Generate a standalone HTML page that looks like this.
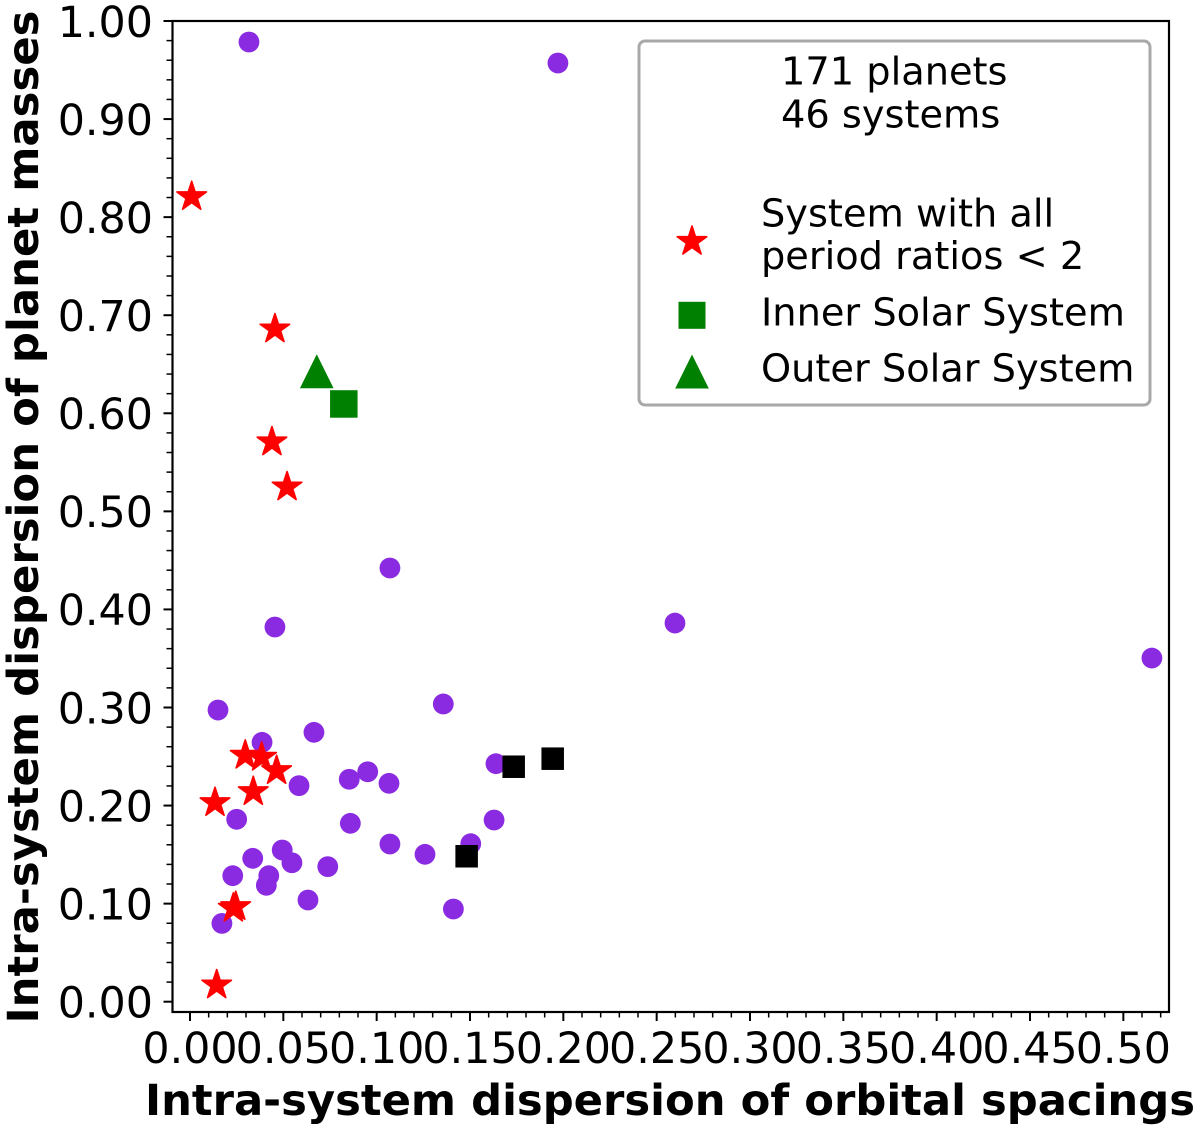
<!DOCTYPE html>
<html lang="en">
<head>
<meta charset="utf-8">
<title>Intra-system dispersion scatter chart</title>
<style>
html,body{margin:0;padding:0;background:#fff;width:1200px;height:1130px;overflow:hidden}
svg{display:block;font-family:"DejaVu Sans","Liberation Sans",sans-serif}
</style>
</head>
<body>
<svg id="chart" xmlns="http://www.w3.org/2000/svg" width="1200" height="1130" viewBox="0 0 1200 1130">
  <g id="marks"></g>
  <g id="axes"></g>
  <rect x="172.5" y="21" width="996.5" height="991" fill="none" stroke="#000" stroke-width="2.2"/>
  <text x="670" y="1115" font-size="42.5" font-weight="700" text-anchor="middle" textLength="1050" lengthAdjust="spacingAndGlyphs">Intra-system dispersion of orbital spacings</text>
  <text x="38" y="517" font-size="42.5" font-weight="700" text-anchor="middle" transform="rotate(-90 38 517)" textLength="1013" lengthAdjust="spacingAndGlyphs">Intra-system dispersion of planet masses</text>
  <g>
    <rect x="639" y="41" width="511" height="364" rx="6" ry="6" fill="#fff" stroke="#a8a8a8" stroke-width="3"/>
    <text x="781" y="84.5" font-size="38.3">171 planets</text>
    <text x="781" y="127.5" font-size="38.3">46 systems</text>
    <text x="761" y="226.5" font-size="38.3">System with all</text>
    <text x="761" y="269" font-size="38.3">period ratios &lt; 2</text>
    <text x="761" y="325.5" font-size="38.3">Inner Solar System</text>
    <text x="761" y="381.5" font-size="38.3">Outer Solar System</text>
    <g id="legend-markers"></g>
  </g>
</svg>
<script>
var xTickLabels = ["0.00","0.05","0.10","0.15","0.20","0.25","0.30","0.35","0.40","0.45","0.50"];
var yTickLabels = ["0.00","0.10","0.20","0.30","0.40","0.50","0.60","0.70","0.80","0.90","1.00"];
var xMinorValues = [0.01,0.02,0.03,0.04,0.06,0.07,0.08,0.09,0.11,0.12,0.13,0.14,0.16,0.17,0.18,0.19,0.21,0.22,0.23,0.24,0.26,0.27,0.28,0.29,0.31,0.32,0.33,0.34,0.36,0.37,0.38,0.39,0.41,0.42,0.43,0.44,0.46,0.47,0.48,0.49,0.51,0.52];
var yMinorValues = [0.02,0.04,0.06,0.08,0.12,0.14,0.16,0.18,0.22,0.24,0.26,0.28,0.32,0.34,0.36,0.38,0.42,0.44,0.46,0.48,0.52,0.54,0.56,0.58,0.62,0.64,0.66,0.68,0.72,0.74,0.76,0.78,0.82,0.84,0.86,0.88,0.92,0.94,0.96,0.98];

var circleX = [.0316,.1971,.1071,.0455,.2598,.5153,.0150,.0386,.0664,.0584,.0853,.0952,.1066,.0859,.1071,.0250,.0336,.0494,.0546,.0738,.0229,.0422,.0409,.0632,.0171,.1357,.1639,.1629,.1259,.1504,.1411];
var circleY = [.9786,.9572,.4422,.3821,.3861,.3504,.2974,.2645,.2747,.2203,.2268,.2345,.2227,.1819,.1608,.1860,.1462,.1547,.1417,.1377,.1285,.1285,.1187,.1037,.0799,.3036,.2427,.1853,.1503,.1611,.0945];
var starX = [.0009,.0455,.0439,.0520,.0296,.0384,.0464,.0339,.0134,.0245,.0232,.0143];
var starY = [.8208,.6859,.5707,.5248,.2512,.2492,.2355,.2141,.2029,.0969,.0952,.0170];
var blackSquareX = [.1734,.1943,.1482];
var blackSquareY = [.2396,.2478,.1483];
var innerSolarX = [.0824];
var innerSolarY = [.6095];
var outerSolarX = [.0679];
var outerSolarY = [.6429];

var NS = "http://www.w3.org/2000/svg";
function xScale(v){ return 190 + 1866.7 * v; }
function yScale(v){ return 1001.7 - 980.7 * v; }
function make(tag, parent){
  var el = document.createElementNS(NS, tag);
  parent.appendChild(el);
  return el;
}
function starPoints(cx, cy, R){
  var pts = [];
  for (var i = 0; i < 10; i++){
    var r = i % 2 ? R * 0.382 : R;
    var a = -Math.PI / 2 + i * Math.PI / 5;
    pts.push((cx + r * Math.cos(a)).toFixed(2) + "," + (cy + r * Math.sin(a)).toFixed(2));
  }
  return pts.join(" ");
}
function drawCircle(parent, cx, cy){
  var el = make("circle", parent);
  el.setAttribute("cx", cx);
  el.setAttribute("cy", cy);
  el.setAttribute("r", 10.4);
  el.setAttribute("fill", "#8a2be2");
  return el;
}
function drawStar(parent, cx, cy){
  var el = make("polygon", parent);
  el.setAttribute("points", starPoints(cx, cy, 15.5));
  el.setAttribute("fill", "#ff0000");
  el.setAttribute("stroke", "#ff0000");
  el.setAttribute("stroke-width", 1.6);
  el.setAttribute("stroke-linejoin", "round");
  return el;
}
function drawSquare(parent, cx, cy, s, color){
  var el = make("rect", parent);
  el.setAttribute("x", cx - s / 2);
  el.setAttribute("y", cy - s / 2);
  el.setAttribute("width", s);
  el.setAttribute("height", s);
  el.setAttribute("fill", color);
  return el;
}
function drawTriangle(parent, cx, cy){
  var el = make("polygon", parent);
  el.setAttribute("points", cx + "," + (cy - 17) + " " + (cx + 16.8) + "," + (cy + 17) + " " + (cx - 16.8) + "," + (cy + 17));
  el.setAttribute("fill", "#008000");
  return el;
}
function drawTick(parent, x1, y1, x2, y2, w){
  var el = make("line", parent);
  el.setAttribute("x1", x1);
  el.setAttribute("y1", y1);
  el.setAttribute("x2", x2);
  el.setAttribute("y2", y2);
  el.setAttribute("stroke", "#000");
  el.setAttribute("stroke-width", w);
  return el;
}

var marks = document.getElementById("marks");
var axes = document.getElementById("axes");
var legendMarkers = document.getElementById("legend-markers");

circleX.forEach(function(v, i){
  var el = drawCircle(marks, xScale(v), yScale(circleY[i]));
  
  
});
blackSquareX.forEach(function(v, i){
  var el = drawSquare(marks, xScale(v), yScale(blackSquareY[i]), 22.5, "#000");
  
  
});
starX.forEach(function(v, i){
  var el = drawStar(marks, xScale(v), yScale(starY[i]));
  
  
});
outerSolarX.forEach(function(v, i){
  var el = drawTriangle(marks, xScale(v), yScale(outerSolarY[i]));
  
  
});
innerSolarX.forEach(function(v, i){
  var el = drawSquare(marks, xScale(v), yScale(innerSolarY[i]), 27.5, "#008000");
  
  
});

xTickLabels.forEach(function(label){
  var px = xScale(parseFloat(label));
  var tick = drawTick(axes, px, 1012, px, 1021, 2);
  
  
  var t = make("text", axes);
  t.setAttribute("x", px);
  t.setAttribute("y", 1063);
  t.setAttribute("font-size", 42.8);
  t.setAttribute("text-anchor", "middle");
  t.textContent = label;
  
  
});
xMinorValues.forEach(function(v){
  var px = xScale(v);
  var tick = drawTick(axes, px, 1012, px, 1017.5, 1.5);
  
  
});
yTickLabels.forEach(function(label){
  var py = yScale(parseFloat(label));
  var tick = drawTick(axes, 172.5, py, 163.5, py, 2);
  
  
  var t = make("text", axes);
  t.setAttribute("x", 153);
  t.setAttribute("y", py + 15.8);
  t.setAttribute("font-size", 42.8);
  t.setAttribute("text-anchor", "end");
  t.textContent = label;
  
  
});
yMinorValues.forEach(function(v){
  var py = yScale(v);
  var tick = drawTick(axes, 172.5, py, 166.5, py, 1.5);
  
  
});

var legendStar = drawStar(legendMarkers, 692, 241.5);


var legendSquare = drawSquare(legendMarkers, 692, 315.3, 27, "#008000");


var legendTriangle = drawTriangle(legendMarkers, 692, 371.5);


</script>
</body>
</html>
